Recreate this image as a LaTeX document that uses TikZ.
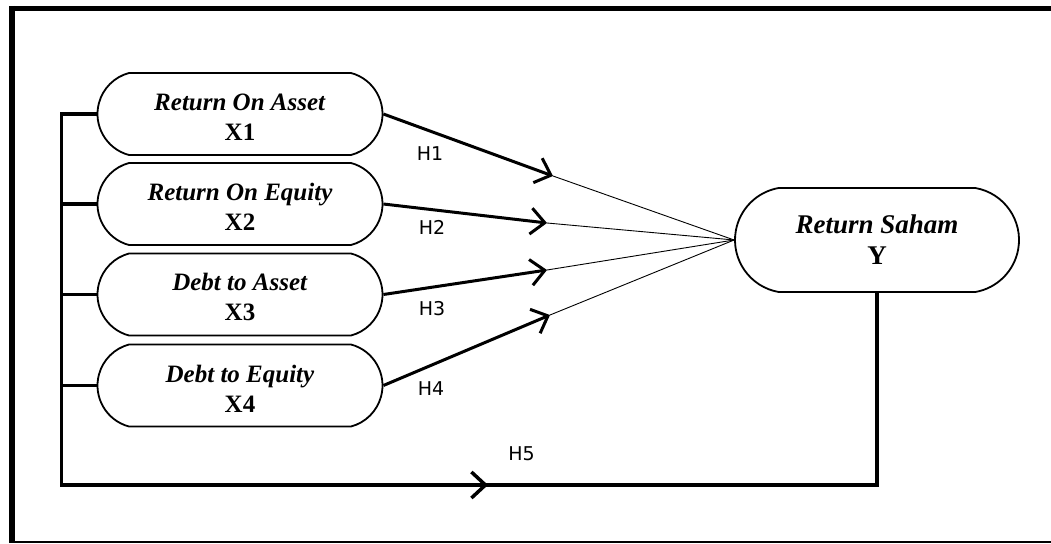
\documentclass[tikz,border=0pt]{standalone}
\usepackage{fontspec}
\setmainfont{Liberation Serif}
\newfontfamily\labfont{DejaVu Sans}
\usetikzlibrary{shapes.misc,arrows.meta}
\newcommand{\topstrut}{\rule{0pt}{23pt}}
\begin{document}
\begin{tikzpicture}[x=1pt,y=-1pt,
  varbox/.style={rounded rectangle, rounded rectangle arc length=150, draw, line width=1.8pt,
    minimum width=285pt, minimum height=82pt, align=center, inner sep=0pt,
    font=\bfseries\fontsize{25}{30}\selectfont},
  ybox/.style={varbox, rounded rectangle arc length=160, minimum width=284pt, minimum height=104pt,
    font=\bfseries\fontsize{27}{31}\selectfont},
  bus/.style={line width=3.5pt},
  hyp/.style={line width=3pt, -{Straight Barb[length=14pt,width=26pt]}},
  fanline/.style={line width=0.9pt},
  hlab/.style={inner sep=0pt, font=\labfont\fontsize{19}{22}\selectfont}
]
\useasboundingbox (0,0) rectangle (1051,543);
\fill[white] (0,0) rectangle (1051,543);
% frame
\draw[line width=5pt] (9,8.5) -- (1051,8.5);
\draw[line width=6pt] (12,6) -- (12,543);
\draw[line width=1.8pt] (9,542) -- (1051,542);

% nodes
\node[varbox] (x1) at (240,114) {\topstrut\textit{Return On Asset}\\X1};
\node[varbox] (x2) at (240,204) {\topstrut\textit{Return On Equity}\\X2};
\node[varbox] (x3) at (240,294.5) {\topstrut\textit{Debt to Asset}\\X3};
\node[varbox] (x4) at (240,385.5) {\topstrut\textit{Debt to Equity}\\X4};
\node[ybox] (y) at (877,240) {\textit{Return Saham}\\Y};

% arrow tips
\coordinate (t1) at (553,176);
\coordinate (t2) at (547,223);
\coordinate (t3) at (547,270);
\coordinate (t4) at (550,315);

\draw[hyp] (x1.east) -- (t1);
\draw[hyp] (x2.east) -- (t2);
\draw[hyp] (x3.east) -- (t3);
\draw[hyp] (x4.east) -- (t4);
\foreach \t in {t1,t2,t3,t4} \draw[fanline] (\t) -- (y.west);

% bus
\coordinate (bt) at (61.5,114);
\coordinate (bb) at (61.5,485);
\coordinate (h5) at (488,485);
\coordinate (br) at (877,485);
\draw[bus] (x1.west) -- (bt) -- (bb) -- (br) -- (y.south);
\draw[bus] (x2.west) -- (x2.west -| bt);
\draw[bus] (x3.west) -- (x3.west -| bt);
\draw[bus] (x4.west) -- (x4.west -| bt);
\draw[bus, -{Straight Barb[length=14pt,width=26pt]}] (bb) -- (h5);

% labels
\node[hlab] (l1) at (430,154) {H1};
\node[hlab] (l2) at (432,227) {H2};
\node[hlab] (l3) at (432,308.5) {H3};
\node[hlab] (l4) at (431,389) {H4};
\node[hlab] (l5) at (521.5,454) {H5};
\end{tikzpicture}
\end{document}
